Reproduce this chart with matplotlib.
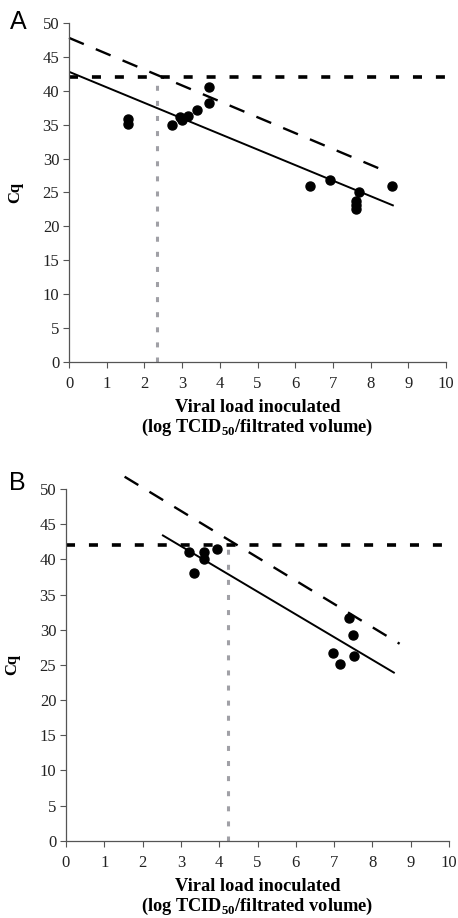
import matplotlib
matplotlib.use('Agg')
import matplotlib.pyplot as plt

plt.rcParams['mathtext.fontset'] = 'custom'
plt.rcParams['mathtext.rm'] = 'Liberation Serif:bold'
plt.rcParams['mathtext.bf'] = 'Liberation Serif:bold'

# panel A data
a_x = [1.57, 1.57, 2.73, 2.94, 3.0, 3.16, 3.40, 3.70, 3.70, 6.40, 6.93, 7.69, 7.60, 7.60, 7.60, 8.56]
a_y = [35.8, 35.1, 34.9, 36.2, 35.7, 36.3, 37.1, 40.6, 38.2, 25.9, 26.8, 25.0, 23.7, 23.1, 22.6, 25.9]
a_fit_x = [0, 8.59]
a_fit_y = [42.8, 23.1]
a_upper_x = [0, 8.5]
a_upper_y = [47.8, 27.9]
a_lod = 2.34

# panel B data
b_x = [3.21, 3.34, 3.60, 3.60, 3.93, 6.96, 7.15, 7.38, 7.49, 7.51]
b_y = [41.1, 38.1, 41.1, 40.0, 41.5, 26.7, 25.1, 31.6, 29.2, 26.2]
b_fit_x = [2.53, 8.56]
b_fit_y = [43.4, 23.9]
b_upper_x = [1.53, 8.71]
b_upper_y = [51.75, 28.0]
b_lod = 4.23

cutoff = 42
xticks = list(range(0, 11))
yticks = list(range(0, 51, 5))

serif = 'Liberation Serif'


def draw_panel(ax, px, py, fit_x, fit_y, up_x, up_y, lod):
    ax.set_xlim(0, 10)
    ax.set_ylim(0, 50)
    ax.plot([lod, lod], [0, cutoff], color='#a0a0a6', lw=2.2,
            linestyle=(0, (1.64, 3.3)), solid_capstyle='butt', zorder=1)
    ax.plot([0, 10], [cutoff, cutoff], color='black', lw=2.6,
            linestyle=(0, (2.5, 3.85)), clip_on=False, zorder=2)
    ax.plot(up_x, up_y, color='black', lw=1.7, linestyle=(0, (6.8, 5.5)),
            clip_on=False, zorder=2)
    ax.plot(fit_x, fit_y, color='black', lw=1.4, zorder=2)
    ax.plot(px, py, 'o', color='black', ms=6.5, zorder=3)

    for s in ['top', 'right']:
        ax.spines[s].set_visible(False)
    for s in ['left', 'bottom']:
        ax.spines[s].set_color('#555555')
        ax.spines[s].set_linewidth(0.9)
    ax.set_xticks(xticks)
    ax.set_yticks(yticks)
    ax.tick_params(direction='out', length=4, width=0.8, color='#555555',
                   labelsize=12, labelcolor='#222222')
    ax.tick_params(axis='x', pad=6)
    ax.tick_params(axis='y', pad=3)
    for lab in ax.get_xticklabels() + ax.get_yticklabels():
        lab.set_family(serif)
    ax.set_xlabel('Viral load inoculated\n(log TCID$_{50}$/filtrated volume)',
                  family=serif, fontweight='bold', fontsize=13.2,
                  linespacing=1.1, labelpad=5)
    ax.set_ylabel('Cq', family=serif, fontweight='bold', fontsize=12, labelpad=14)


fig = plt.figure(figsize=(4.58, 9.18), dpi=100)
ax_a = fig.add_axes([0.1507, 0.6057, 0.8231, 0.3693])
ax_b = fig.add_axes([0.1441, 0.0842, 0.8363, 0.3831])

draw_panel(ax_a, a_x, a_y, a_fit_x, a_fit_y, a_upper_x, a_upper_y, a_lod)
draw_panel(ax_b, b_x, b_y, b_fit_x, b_fit_y, b_upper_x, b_upper_y, b_lod)

fig.text(18 / 458, 1 - 22 / 918, 'A', fontsize=18, family='Liberation Sans',
         ha='center', va='center')
fig.text(17 / 458, 1 - 483 / 918, 'B', fontsize=18, family='Liberation Sans',
         ha='center', va='center')

fig.savefig('out.png', dpi=100)
